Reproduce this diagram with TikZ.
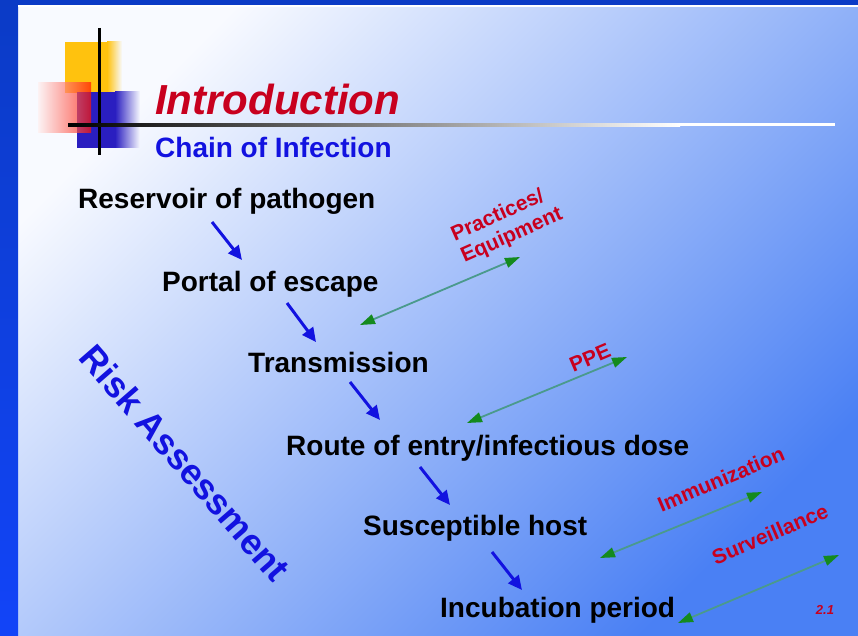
\documentclass[tikz,border=0pt]{standalone}
\usepackage{fontspec}
\setmainfont{Liberation Sans}
\usepackage{xcolor}
\usetikzlibrary{arrows.meta}

\definecolor{marco}{HTML}{0B3BC6}
\definecolor{marcoclaro}{HTML}{1244F8}
\definecolor{fondoA}{HTML}{F8FAFF}
\definecolor{fondoB}{HTML}{B4CAF8}
\definecolor{fondoC}{HTML}{4A80F4}
\definecolor{rojo}{HTML}{C8001E}
\definecolor{azul}{HTML}{1212E0}
\definecolor{amarillo}{HTML}{FFC20E}
\definecolor{azullogo}{HTML}{2A1EC0}
\definecolor{verde}{HTML}{148A1E}
\definecolor{verdelinea}{HTML}{4A9A8C}

\begin{document}
\begin{tikzpicture}[x=1pt,y=-1pt,
    eslabon/.style={anchor=base west, inner sep=0pt, font=\fontsize{28}{32}\selectfont\bfseries},
    medida/.style={inner sep=0pt, align=left, text=rojo, font=\fontsize{21}{24}\selectfont\bfseries},
    flecha/.style={draw=azul, line width=3pt, -{Triangle[length=14pt,width=13pt]}},
    control/.style={draw=verdelinea, line width=1.8pt,
        {Triangle[length=15pt,width=10pt,color=verde]}-{Triangle[length=15pt,width=10pt,color=verde]}}]
    \useasboundingbox (0,0) rectangle (858,636);

    % Fondo y marco
    \shade[top color=fondoA, middle color=fondoB, bottom color=fondoC, shading angle=45] (18,5) rectangle (858,636);
    \fill[marco] (0,0) rectangle (858,5);
    \shade[top color=marco, bottom color=marcoclaro] (0,0) rectangle (18,636);
    \fill[white] (18,5) rectangle (858,7);

    % Logotipo
    \fill[amarillo] (65,42) rectangle (107,93);
    \shade[left color=amarillo, right color=fondoA] (107,42) rectangle (122,93);
    \fill[azullogo] (77,92) rectangle (115,148);
    \shade[left color=azullogo, right color=fondoA] (115,92) rectangle (140,148);
    \shade[left color=red!6, right color=red!85!orange, opacity=0.7] (38,83) rectangle (91,133);
    \draw[line width=3pt] (99,28) -- (99,155);
    \shade[left color=black, middle color=gray, right color=white] (68,123.5) rectangle (680,126.5);
    \fill[white] (680,123.5) rectangle (835,126.5);

    % Titulos
    \node[anchor=base west, inner sep=0pt, text=rojo, font=\fontsize{42}{46}\selectfont\bfseries\itshape] (intro) at (155,115) {Introduction};
    \node[anchor=base west, inner sep=0pt, text=azul, font=\fontsize{28}{31}\selectfont\bfseries] (cadena) at (155,158) {Chain of Infection};

    % Eslabones de la cadena
    \foreach \n/\x/\y/\t in {res/78/209/{Reservoir of pathogen}, por/162/291/{Portal of escape},
        tra/248/372/Transmission, rut/286/455/{Route of entry/infectious dose},
        sus/363/535/{Susceptible host}, inc/440/617/{Incubation period}} {
        \node[eslabon] (\n) at (\x,\y) {\t};
    }

    % Flechas azules entre eslabones
    \foreach \i/\xa/\ya/\xb/\yb in {1/212/222/242/260, 2/287/303/316/342, 3/350/382/380/420,
        4/420/467/450/505, 5/492/552/522/590} {
        \coordinate (s\i) at (\xa,\ya);
        \coordinate (t\i) at (\xb,\yb);
        \draw[flecha] (s\i) -- (t\i);
    }

    % Flechas verdes de control
    \foreach \i/\xa/\ya/\xb/\yb in {1/360/325/520/257, 2/467/423/627/357,
        3/600/558/762/492, 4/678/623/839/555} {
        \coordinate (ca\i) at (\xa,\ya);
        \coordinate (cb\i) at (\xb,\yb);
        \draw[control] (ca\i) -- (cb\i);
    }

    % Medidas de control
    \node[medida, rotate=24] (practicas) at (507,225) {Practices/\\Equipment};
    \node[medida, rotate=23] (epp) at (590,358) {PPE};
    \node[medida, rotate=23] (inmun) at (721,479) {Immunization};
    \node[medida, rotate=23] (vigil) at (770,534) {Surveillance};

    % Texto diagonal
    \node[inner sep=0pt, text=azul, font=\fontsize{36}{40}\selectfont\bfseries, rotate=-49] (riesgo) at (185,463) {Risk Assessment};

    % Numero de pagina
    \node[inner sep=0pt, text=rojo, font=\fontsize{13}{15}\selectfont\bfseries\itshape] (pag) at (825,610) {2.1};

\end{tikzpicture}
\end{document}
